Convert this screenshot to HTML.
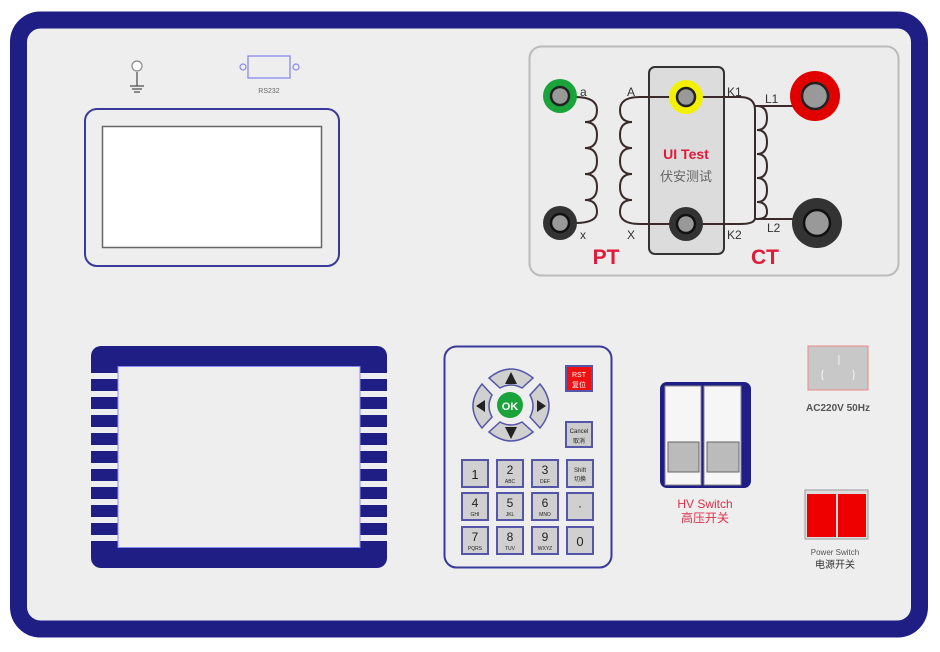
<!DOCTYPE html>
<html><head><meta charset="utf-8"><style>
html,body{margin:0;padding:0;background:#fff;}
svg{display:block;}
text{font-family:"Liberation Sans","Noto Sans CJK SC",sans-serif;}
</style></head><body>
<svg width="940" height="652" viewBox="0 0 940 652" xmlns="http://www.w3.org/2000/svg">
<rect x="0" y="0" width="940" height="652" fill="#fff"/>
<rect x="18.5" y="20" width="901" height="609" rx="22" fill="#eeeeee" stroke="#1e1e85" stroke-width="17"/>

<circle cx="137" cy="66" r="5" fill="#fff" stroke="#888" stroke-width="1.2"/>
<line x1="137" y1="72" x2="137" y2="86" stroke="#555" stroke-width="1.3"/>
<line x1="130" y1="86" x2="144" y2="86" stroke="#555" stroke-width="1.3"/>
<line x1="132" y1="89" x2="142" y2="89" stroke="#555" stroke-width="1.3"/>
<line x1="134" y1="92" x2="140" y2="92" stroke="#555" stroke-width="1.3"/>
<rect x="248" y="56" width="42" height="22" fill="#eee" stroke="#8888ee" stroke-width="1.3"/>
<circle cx="243" cy="67" r="3" fill="#eee" stroke="#8888ee" stroke-width="1.2"/>
<circle cx="296" cy="67" r="3" fill="#eee" stroke="#8888ee" stroke-width="1.2"/>
<text x="269" y="93" font-size="7" fill="#666" text-anchor="middle">RS232</text>

<rect x="85" y="109" width="254" height="157" rx="12" fill="#eee" stroke="#3a3a9a" stroke-width="2"/>
<rect x="102.5" y="126.5" width="219" height="121" fill="#fff" stroke="#666" stroke-width="1.5"/>

<rect x="529.5" y="46.5" width="369" height="229" rx="12" fill="#ececec" stroke="#bbb" stroke-width="2"/>
<rect x="649" y="67" width="75" height="187" rx="6" fill="#dcdcdc" stroke="#333" stroke-width="2"/>
<g fill="none" stroke="#3a2a2a" stroke-width="2">
<path d="M575,97 Q597,97 597,110 Q597,122 585,122 Q597,122 597,135 Q597,148 585,148 Q597,148 597,161 Q597,174 585,174 Q597,174 597,187 Q597,200 585,200 Q597,200 597,212 Q597,223 575,223"/>
<path d="M686,97 L640,97 Q620,97 620,110 Q620,122 632,122 Q620,122 620,135 Q620,148 632,148 Q620,148 620,161 Q620,174 632,174 Q620,174 620,187 Q620,200 632,200 Q620,200 620,212 Q620,224 640,224 L686,224"/>
<path d="M686,97 L740,97 Q755,97 755,110 L755,218 Q755,224 740,224 L686,224"/>
<path d="M757,106 Q767,106 767,118 Q767,130 757,130 Q767,130 767,142 Q767,154 757,154 Q767,154 767,166 Q767,178 757,178 Q767,178 767,190 Q767,202 757,202 Q767,202 767,212 Q767,219 757,219"/>
<path d="M755,106 L812,106"/>
<path d="M755,219 L815,219"/>
</g>
<circle cx="560" cy="96" r="17" fill="#1aa33a"/><circle cx="560" cy="96" r="9" fill="#999" stroke="#222" stroke-width="2.5"/>
<circle cx="560" cy="223" r="17" fill="#333"/><circle cx="560" cy="223" r="9" fill="#999" stroke="#111" stroke-width="2.5"/>
<circle cx="686" cy="97" r="17" fill="#f2f200"/><circle cx="686" cy="97" r="9" fill="#999" stroke="#222" stroke-width="2.5"/>
<circle cx="686" cy="224" r="17" fill="#333"/><circle cx="686" cy="224" r="9" fill="#999" stroke="#111" stroke-width="2.5"/>
<circle cx="815" cy="96" r="25" fill="#e00000"/><circle cx="815" cy="96" r="13" fill="#999" stroke="#222" stroke-width="2.5"/>
<circle cx="817" cy="223" r="25" fill="#333"/><circle cx="817" cy="223" r="13" fill="#999" stroke="#111" stroke-width="2.5"/>
<g font-size="12" fill="#333">
<text x="580" y="96">a</text><text x="580" y="239">x</text>
<text x="627" y="96">A</text><text x="627" y="239">X</text>
<text x="727" y="96">K1</text><text x="727" y="239">K2</text>
<text x="765" y="103">L1</text><text x="767" y="232">L2</text>
</g>
<text x="606" y="264" font-size="21" font-weight="bold" fill="#e01a3a" text-anchor="middle">PT</text>
<text x="765" y="264" font-size="21" font-weight="bold" fill="#e01a3a" text-anchor="middle">CT</text>
<text x="686" y="159" font-size="14" font-weight="bold" fill="#e01a3a" text-anchor="middle">UI Test</text>
<text x="686" y="181" font-size="13" fill="#666" text-anchor="middle">伏安测试</text>

<rect x="91" y="346" width="296" height="222" rx="10" fill="#1e1e85"/>
<g fill="#eee">
<rect x="91" y="373" width="27" height="6"/><rect x="91" y="391" width="27" height="6"/><rect x="91" y="409" width="27" height="6"/>
<rect x="91" y="427" width="27" height="6"/><rect x="91" y="445" width="27" height="6"/><rect x="91" y="463" width="27" height="6"/>
<rect x="91" y="481" width="27" height="6"/><rect x="91" y="499" width="27" height="6"/><rect x="91" y="517" width="27" height="6"/><rect x="91" y="535" width="27" height="6"/>
<rect x="360" y="373" width="27" height="6"/><rect x="360" y="391" width="27" height="6"/><rect x="360" y="409" width="27" height="6"/>
<rect x="360" y="427" width="27" height="6"/><rect x="360" y="445" width="27" height="6"/><rect x="360" y="463" width="27" height="6"/>
<rect x="360" y="481" width="27" height="6"/><rect x="360" y="499" width="27" height="6"/><rect x="360" y="517" width="27" height="6"/><rect x="360" y="535" width="27" height="6"/>
</g>
<rect x="118" y="366.5" width="242" height="181" fill="#eee" stroke="#8888ff" stroke-width="1"/>

<rect x="444.5" y="346.5" width="167" height="221" rx="12" fill="#eee" stroke="#3a3a9a" stroke-width="2"/>
<g fill="#d0d0d0" stroke="#5555aa" stroke-width="1.5">
<path d="M489,378 Q511,360 533,378 L522,388 Q511,382 500,388 Z"/>
<path d="M489,432 Q511,450 533,432 L522,422 Q511,428 500,422 Z"/>
<path d="M482,384 Q464,406 482,428 L492,417 Q486,406 492,395 Z"/>
<path d="M540,384 Q558,406 540,428 L530,417 Q536,406 530,395 Z"/>
</g>
<g fill="#222">
<path d="M505,384 L511,372 L517,384 Z"/>
<path d="M505,427 L511,439 L517,427 Z"/>
<path d="M476,406 L485,400 L485,412 Z"/>
<path d="M546,406 L537,400 L537,412 Z"/>
</g>
<circle cx="510" cy="405" r="13" fill="#1aa33a"/>
<text x="510" y="410" font-size="11" font-weight="bold" fill="#fff" text-anchor="middle" font-family="Liberation Serif,serif">OK</text>
<rect x="566" y="366" width="26" height="25" fill="#ee1111" stroke="#5555aa" stroke-width="2"/>
<text x="579" y="377" font-size="7" fill="#fff" text-anchor="middle">RST</text>
<text x="579" y="387" font-size="7" fill="#fff" text-anchor="middle">复位</text>
<rect x="566" y="422" width="26" height="25" fill="#ccc" stroke="#5555aa" stroke-width="2"/>
<text x="579" y="433" font-size="6" fill="#222" text-anchor="middle">Cancel</text>
<text x="579" y="443" font-size="6" fill="#222" text-anchor="middle">取消</text>
<g stroke="#5555aa" stroke-width="2" fill="#d0d0d0">
<rect x="462" y="460" width="26" height="27"/><rect x="497" y="460" width="26" height="27"/><rect x="532" y="460" width="26" height="27"/><rect x="567" y="460" width="26" height="27"/>
<rect x="462" y="493" width="26" height="27"/><rect x="497" y="493" width="26" height="27"/><rect x="532" y="493" width="26" height="27"/><rect x="567" y="493" width="26" height="27"/>
<rect x="462" y="527" width="26" height="27"/><rect x="497" y="527" width="26" height="27"/><rect x="532" y="527" width="26" height="27"/><rect x="567" y="527" width="26" height="27"/>
</g>
<g font-family="Liberation Serif,serif" fill="#222" text-anchor="middle">
<text x="475" y="479" font-size="13">1</text>
<text x="510" y="474" font-size="12">2</text><text x="510" y="483" font-size="5">ABC</text>
<text x="545" y="474" font-size="12">3</text><text x="545" y="483" font-size="5">DEF</text>
<text x="580" y="472" font-size="6">Shift</text><text x="580" y="481" font-size="6">切换</text>
<text x="475" y="507" font-size="12">4</text><text x="475" y="516" font-size="5">GHI</text>
<text x="510" y="507" font-size="12">5</text><text x="510" y="516" font-size="5">JKL</text>
<text x="545" y="507" font-size="12">6</text><text x="545" y="516" font-size="5">MNO</text>
<text x="580" y="510" font-size="12">·</text>
<text x="475" y="541" font-size="12">7</text><text x="475" y="550" font-size="5">PQRS</text>
<text x="510" y="541" font-size="12">8</text><text x="510" y="550" font-size="5">TUV</text>
<text x="545" y="541" font-size="12">9</text><text x="545" y="550" font-size="5">WXYZ</text>
<text x="580" y="546" font-size="13">0</text>
</g>

<rect x="660" y="382" width="91" height="106" rx="7" fill="#1e1e85"/>
<rect x="665" y="386" width="36" height="99" fill="#f6f6f6" stroke="#888" stroke-width="1"/>
<rect x="704" y="386" width="37" height="99" fill="#f6f6f6" stroke="#888" stroke-width="1"/>
<rect x="668" y="442" width="31" height="30" fill="#bbb" stroke="#666" stroke-width="1"/>
<rect x="707" y="442" width="32" height="30" fill="#bbb" stroke="#666" stroke-width="1"/>
<text x="705" y="508" font-size="12" fill="#e0304a" text-anchor="middle">HV Switch</text>
<text x="705" y="522" font-size="12" fill="#e0304a" text-anchor="middle">高压开关</text>

<rect x="808" y="346" width="60" height="44" fill="#c8c8c8" stroke="#e88" stroke-width="1"/>
<g stroke="#eee" stroke-width="1.2" fill="none">
<line x1="839" y1="355" x2="839" y2="365"/>
<path d="M823,370 Q821,375 823,380"/>
<path d="M853,370 Q855,375 853,380"/>
</g>
<text x="838" y="411" font-size="10" font-weight="bold" fill="#555" text-anchor="middle">AC220V 50Hz</text>

<rect x="805" y="490" width="63" height="49" fill="#ddd" stroke="#999" stroke-width="1"/>
<rect x="807" y="494" width="29" height="43" fill="#ee0000"/>
<rect x="838" y="494" width="28" height="43" fill="#ee0000"/>
<text x="835" y="555" font-size="8" fill="#555" text-anchor="middle">Power Switch</text>
<text x="835" y="568" font-size="10" fill="#333" text-anchor="middle">电源开关</text>
</svg>
</body></html>
